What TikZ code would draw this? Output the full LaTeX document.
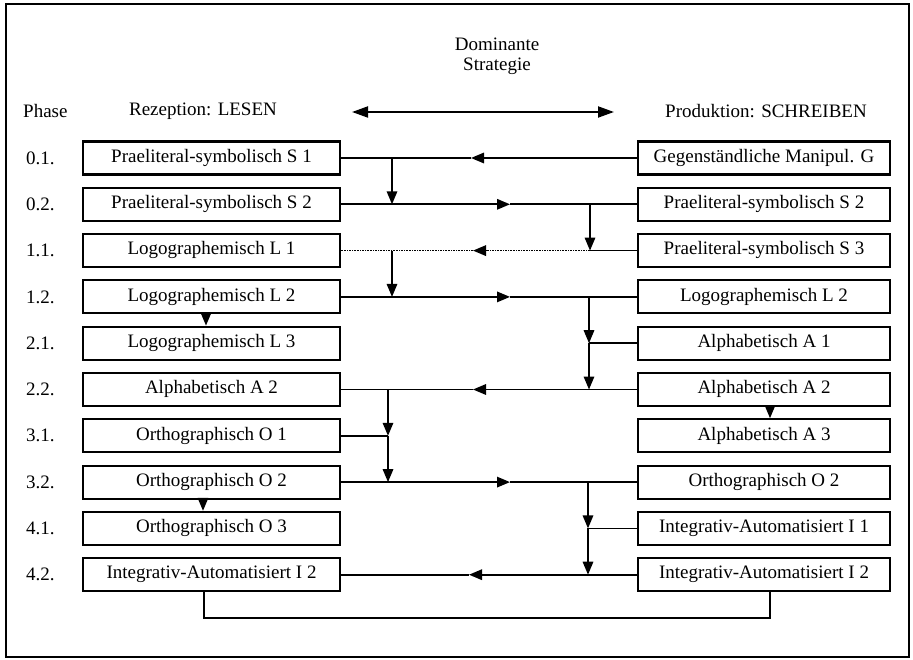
\documentclass[tikz,border=0pt]{standalone}
\usepackage{fontspec}
\setmainfont{Liberation Serif}
\usetikzlibrary{arrows.meta}
\begin{document}
\begin{tikzpicture}[x=1pt,y=-1pt,
  box/.style={draw,line width=2.2pt,minimum width=257pt,minimum height=33pt,inner sep=0pt,
    font=\fontsize{19}{22}\selectfont,text height=12.5pt,text depth=4pt},
  rbox/.style={box,minimum width=252pt},
  lbl/.style={font=\fontsize{19}{22}\selectfont,inner sep=0pt},
  conn/.style={line width=1.6pt},
  arr/.style={conn,-{Triangle[length=13pt,width=10.5pt]}},
]
\useasboundingbox (0,0) rectangle (913,660);
\draw[line width=2.8pt] (6,4) rectangle (909,657);

% header
\node[lbl] (dom) at (497,44) {Dominante};
\node[lbl] (str) at (497,66) {Strategie};
\node[lbl,anchor=west] (phase) at (23,111) {Phase};
\node[lbl] (rez) at (203,111) {Rezeption: LESEN};
\node[lbl] (prod) at (766,111) {Produktion: SCHREIBEN};
\coordinate (da) at (352,112);
\coordinate (db) at (614,112);
\draw[line width=1.9pt,{Triangle[length=16pt,width=11pt]}-{Triangle[length=16pt,width=11pt]}] (da) -- (db);

% phase numbers
\node[lbl,anchor=west] (p0) at (26,158) {0.1.};
\node[lbl,anchor=west] (p1) at (26,204.3) {0.2.};
\node[lbl,anchor=west] (p2) at (26,250.6) {1.1.};
\node[lbl,anchor=west] (p3) at (26,296.9) {1.2.};
\node[lbl,anchor=west] (p4) at (26,343.2) {2.1.};
\node[lbl,anchor=west] (p5) at (26,389.5) {2.2.};
\node[lbl,anchor=west] (p6) at (26,435.8) {3.1.};
\node[lbl,anchor=west] (p7) at (26,482.1) {3.2.};
\node[lbl,anchor=west] (p8) at (26,528.4) {4.1.};
\node[lbl,anchor=west] (p9) at (26,574.7) {4.2.};

% left column
\node[box] (S1) at (211.5,158) {Praeliteral-symbolisch S 1};
\node[box] (S2) at (211.5,204.3) {Praeliteral-symbolisch S 2};
\node[box] (L1) at (211.5,250.6) {Logographemisch L 1};
\node[box] (L2) at (211.5,296.9) {Logographemisch L 2};
\node[box] (L3) at (211.5,343.2) {Logographemisch L 3};
\node[box] (A2) at (211.5,389.5) {Alphabetisch A 2};
\node[box] (O1) at (211.5,435.8) {Orthographisch O 1};
\node[box] (O2) at (211.5,482.1) {Orthographisch O 2};
\node[box] (O3) at (211.5,528.4) {Orthographisch O 3};
\node[box] (I2) at (211.5,574.7) {Integrativ-Automatisiert I 2};

% right column
\node[rbox] (G) at (764,158) {Gegenständliche Manipul. G};
\node[rbox] (rS2) at (764,204.3) {Praeliteral-symbolisch S 2};
\node[rbox] (rS3) at (764,250.6) {Praeliteral-symbolisch S 3};
\node[rbox] (rL2) at (764,296.9) {Logographemisch L 2};
\node[rbox] (rA1) at (764,343.2) {Alphabetisch A 1};
\node[rbox] (rA2) at (764,389.5) {Alphabetisch A 2};
\node[rbox] (rA3) at (764,435.8) {Alphabetisch A 3};
\node[rbox] (rO2) at (764,482.1) {Orthographisch O 2};
\node[rbox] (rI1) at (764,528.4) {Integrativ-Automatisiert I 1};
\node[rbox] (rI2) at (764,574.7) {Integrativ-Automatisiert I 2};

% row 0: G -> S1
\coordinate (t0) at (471,158);
\draw[arr] (G.west) -- (t0);
\draw[conn] (t0) -- (S1.east);
\coordinate (j0) at (392,158);
\coordinate (k0) at (392,204.3);
\draw[arr] (j0) -- (k0);

% row 1: S2 -> S2
\coordinate (t1) at (510,204.3);
\draw[arr] (S2.east) -- (t1);
\draw[conn] (t1) -- (rS2.west);
\coordinate (j1) at (590,204.3);
\coordinate (k1) at (590,250.6);
\draw[arr] (j1) -- (k1);

% row 2: S3 -> L1 (dotted)
\coordinate (t2) at (473,250.6);
\draw[conn] (rS3.west) -- (k1);
\draw[arr,densely dotted] (k1) -- (t2);
\draw[conn,densely dotted] (t2) -- (L1.east);
\coordinate (j2) at (392,250.6);
\coordinate (k2) at (392,296.9);
\draw[arr] (j2) -- (k2);

% row 3: L2 -> L2
\coordinate (t3) at (510,296.9);
\draw[arr] (L2.east) -- (t3);
\draw[conn] (t3) -- (rL2.west);
\coordinate (j3) at (589,296.9);
\coordinate (k3a) at (589,343.2);
\coordinate (k3b) at (589,389.5);
\draw[arr] (j3) -- (k3a);
\draw[arr] (k3a) -- (k3b);
\draw[conn] (rA1.west) -- (k3a);

% row 5: A2 -> A2
\coordinate (t5) at (473,389.5);
\draw[arr] (rA2.west) -- (t5);
\draw[conn] (t5) -- (A2.east);
\coordinate (j5) at (388,389.5);
\coordinate (k5a) at (388,435.8);
\coordinate (k5b) at (388,482.1);
\draw[arr] (j5) -- (k5a);
\draw[arr] (k5a) -- (k5b);
\draw[conn] (O1.east) -- (k5a);

% row 7: O2 -> O2
\coordinate (t7) at (510,482.1);
\draw[arr] (O2.east) -- (t7);
\draw[conn] (t7) -- (rO2.west);
\coordinate (j7) at (588,482.1);
\coordinate (k7a) at (588,528.4);
\coordinate (k7b) at (588,574.7);
\draw[arr] (j7) -- (k7a);
\draw[arr] (k7a) -- (k7b);
\draw[conn] (rI1.west) -- (k7a);

% row 9: I2 -> I2
\coordinate (t9) at (469,574.7);
\draw[arr] (rI2.west) -- (t9);
\draw[conn] (t9) -- (I2.east);

% short vertical arrows
\coordinate (xa) at (206,0);
\coordinate (xb) at (203,0);
\coordinate (xc) at (770,0);
\draw[arr] (L2.south -| xa) -- (L3.north -| xa);
\draw[arr] (O2.south -| xb) -- (O3.north -| xb);
\draw[arr] (rA2.south -| xc) -- (rA3.north -| xc);

% bottom return line
\coordinate (bL) at (204,618);
\coordinate (bR) at (770,618);
\draw[conn] (I2.south -| bL) -- (bL) -- (bR) -- (rI2.south -| bR);
\end{tikzpicture}
\end{document}
